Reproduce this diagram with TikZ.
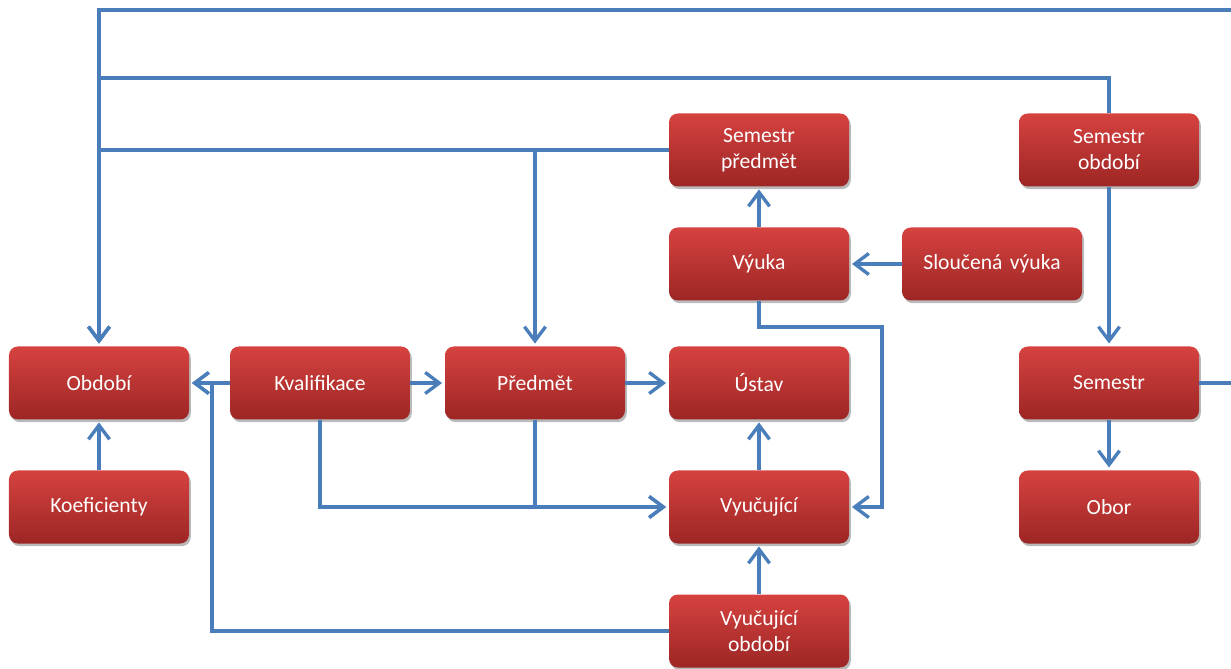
\documentclass[tikz,border=0pt]{standalone}
\usepackage{fontspec}
\setmainfont{Carlito}
\usetikzlibrary{arrows.meta,shadows,positioning}

\definecolor{boxtop}{RGB}{214,66,64}
\definecolor{boxmid}{RGB}{200,58,56}
\definecolor{boxbot}{RGB}{156,38,36}
\definecolor{linkblue}{RGB}{74,126,187}

\begin{document}
\begin{tikzpicture}
		[block/.style ={rectangle, rounded corners=5pt, top color=boxtop, middle color=boxmid, bottom color=boxbot, text=white, text width=3.4cm, inner sep=0.1cm, align=center, minimum height=1.46cm, font=\fontsize{12.3}{14.8}\selectfont, drop shadow={shadow xshift=1pt, shadow yshift=-1.5pt, fill=black!45, opacity=0.6}},
		line/.style ={draw=linkblue, line width=1.9pt},
		arr/.style ={line, -{Straight Barb[length=8pt,width=12pt]}, shorten >=1.5pt}]
		\useasboundingbox (0,0) rectangle (24.62,13.36);
		\draw (1.98,5.70) node[block] (obd) {Období};
		\draw (6.40,5.70) node[block] (kval) {Kvalifikace};
		\draw (10.70,5.70) node[block] (pred) {Předmět};
		\draw (15.18,5.70) node[block] (ustav) {Ústav};
		\draw (22.18,5.70) node[block] (sem) {Semestr};
		\draw (1.98,3.22) node[block] (koef) {Koeficienty};
		\draw (15.18,3.22) node[block] (vyuc) {Vyučující};
		\draw (22.18,3.22) node[block] (obor) {Obor};
		\draw (15.18,0.74) node[block] (vyucobd) {Vyučující\\období};
		\draw (15.18,8.08) node[block] (vyuka) {Výuka};
		\draw (19.84,8.08) node[block] (slouc) {Sloučená výuka};
		\draw (15.18,10.36) node[block] (sempred) {Semestr\\předmět};
		\draw (22.18,10.36) node[block] (semobd) {Semestr\\období};
		% bend points of the long connectors
		\coordinate (redge) at (25.2,13.16);
		\coordinate (ytwo) at (0,11.80);
		\coordinate (vbend) at (17.64,6.82);
		\coordinate (lbend) at (4.24,5.70);

		\path[arr]
		(kval) edge (obd)
		(kval) edge (pred)
		(pred) edge (ustav)
		(koef) edge (obd)
		(vyuc) edge (ustav)
		(vyucobd) edge (vyuc)
		(vyuka) edge (sempred)
		(slouc) edge (vyuka)
		(semobd) edge (sem)
		(sem) edge (obor);

		\draw[arr] (sem.east) -| (redge) -| (obd.north);
		\draw[arr] (semobd.north) |- (ytwo -| obd.north) -- (obd.north);
		\draw[arr] (sempred.west) -| (obd.north);
		\draw[arr] (sempred.west) -| (pred.north);
		\draw[arr] (vyuka.south) |- (vbend) |- (vyuc.east);
		\draw[arr] (kval.south) |- (vyuc.west);
		\draw[arr] (pred.south) |- (vyuc.west);
		\draw[arr] (vyucobd.west) -| (lbend) -- (obd.east);
	\end{tikzpicture}
\end{document}
